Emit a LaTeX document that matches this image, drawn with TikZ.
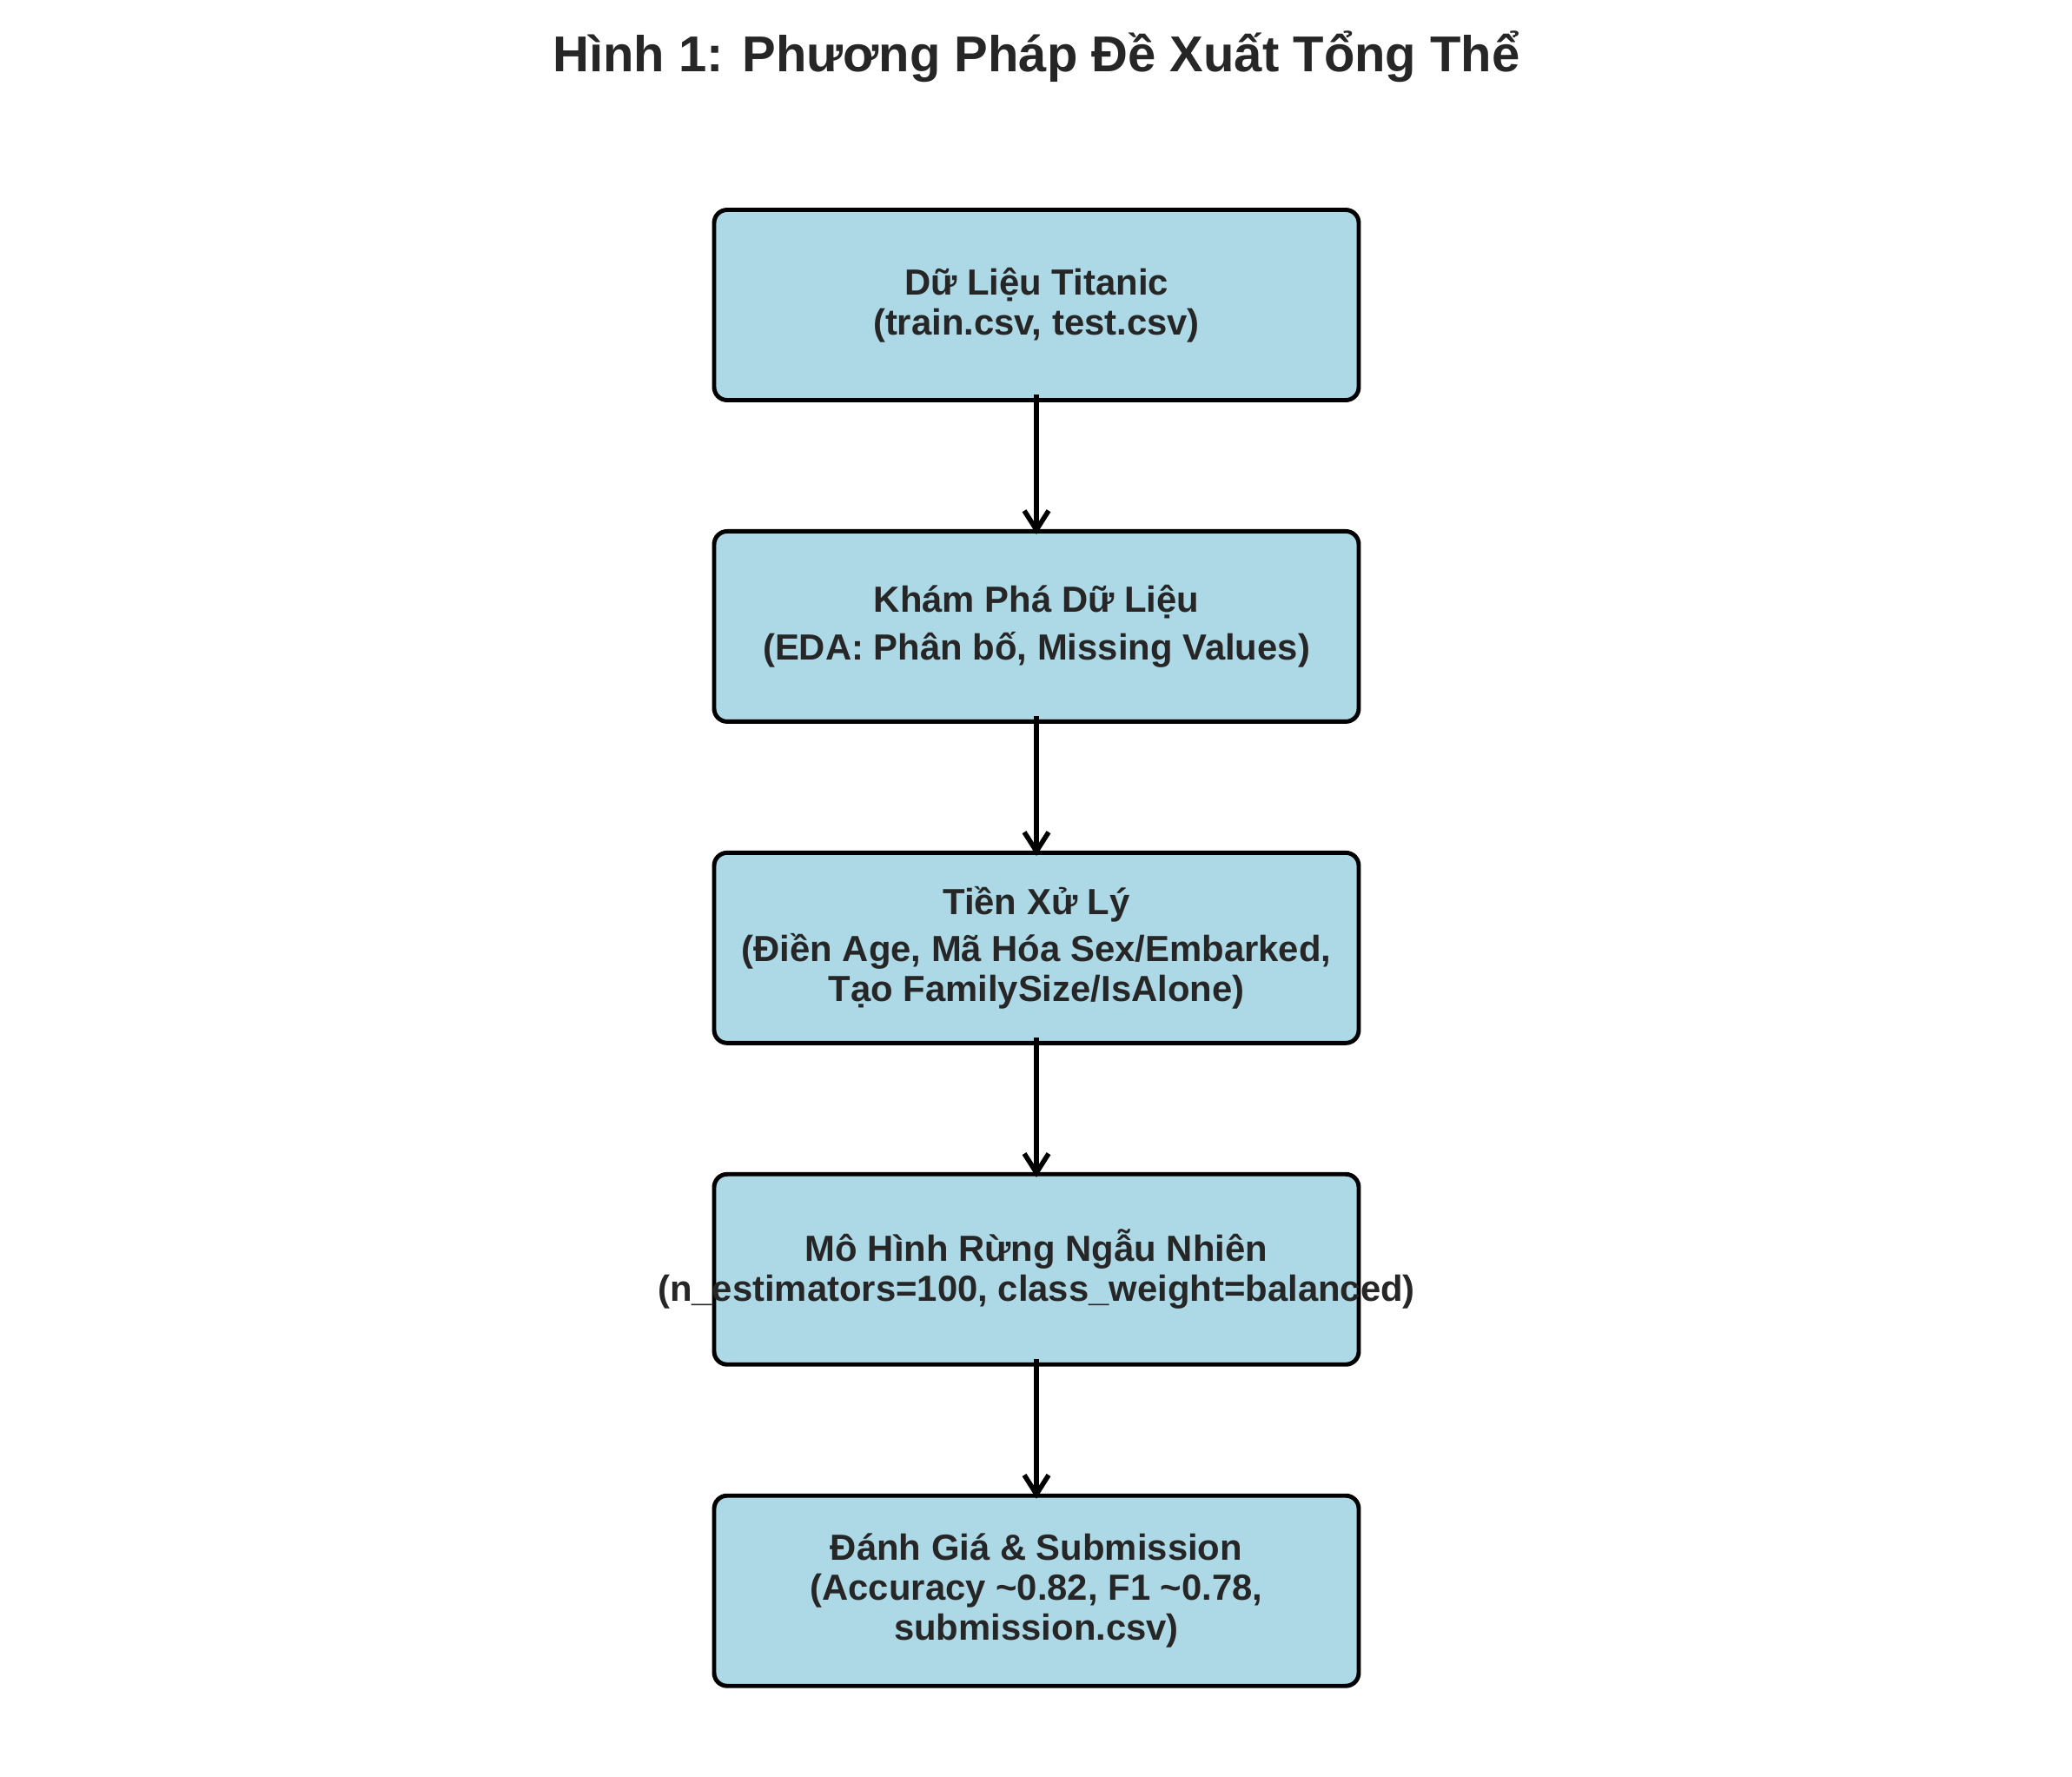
\documentclass[tikz,border=0pt]{standalone}
\usepackage{fontspec}
\setmainfont{Liberation Sans}
\usetikzlibrary{positioning,arrows.meta}
\definecolor{boxfill}{HTML}{ADD8E6}
\definecolor{inktext}{HTML}{262626}

\tikzset{
  stage/.style={draw=black, fill=boxfill, rounded corners=0.15cm,
    line width=1.4pt, minimum width=7.42cm, minimum height=2.19cm,
    inner sep=0pt, align=center, text=inktext,
    font=\fontsize{11.9}{13.1}\selectfont\bfseries},
  flow/.style={-{Straight Barb[length=2.2mm,width=2.8mm]}, line width=1.6pt,
    shorten <=-0.09cm, shorten >=-0.06cm}
}

\begin{document}
\begin{tikzpicture}
  \useasboundingbox (0,0) rectangle (23.85,-20.44);

  \node [anchor=base, text=inktext, font=\fontsize{16.5}{19.8}\selectfont\bfseries]
    (title) at (11.93,-0.83) {Hình 1: Phương Pháp Đề Xuất Tổng Thể};

  \node [stage] (data) at (11.93,-3.51)
    {Dữ Liệu Titanic\\(train.csv, test.csv)};
  \node [stage, below=1.46cm of data] (eda)
    {Khám Phá Dữ Liệu\\[2.6pt](EDA: Phân bố, Missing Values)};
  \node [stage, below=1.46cm of eda] (prep)
    {Tiền Xử Lý\\[2.2pt](Điền Age, Mã Hóa Sex/Embarked,\\Tạo FamilySize/IsAlone)};
  % the second line is wider than the box
  \node [stage, below=1.46cm of prep] (model)
    {Mô Hình Rừng Ngẫu Nhiên\\\makebox[0pt]{(n\_estimators=100, class\_weight=balanced)}};
  \node [stage, below=1.46cm of model] (eval)
    {Đánh Giá \& Submission\\(Accuracy \textasciitilde0.82, F1 \textasciitilde0.78,\\submission.csv)};

  \draw [flow] (data.south) -- (eda.north);
  \draw [flow] (eda.south) -- (prep.north);
  \draw [flow] (prep.south) -- (model.north);
  \draw [flow] (model.south) -- (eval.north);

\end{tikzpicture}
\end{document}
